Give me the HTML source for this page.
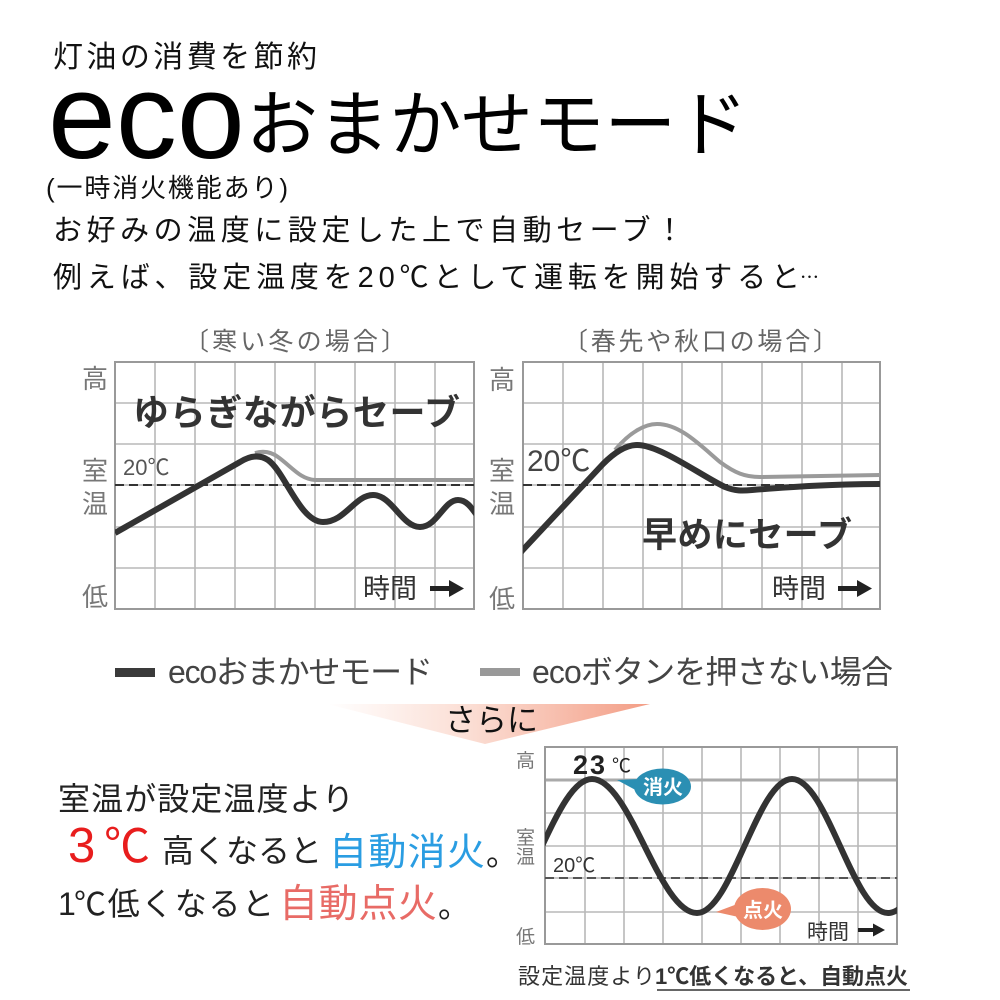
<!DOCTYPE html>
<html><head><meta charset="utf-8">
<style>html,body{margin:0;padding:0;background:#fff;}svg{display:block;}</style>
</head><body>
<svg width="1000" height="1000" viewBox="0 0 1000 1000" xmlns="http://www.w3.org/2000/svg" font-family="'Liberation Sans','Noto Sans CJK JP',sans-serif">
<defs>
  <linearGradient id="tri" x1="327" y1="0" x2="650" y2="0" gradientUnits="userSpaceOnUse">
    <stop offset="0" stop-color="#ffffff"/>
    <stop offset="0.45" stop-color="#fbddd3"/>
    <stop offset="1" stop-color="#f39d85"/>
  </linearGradient>
  <clipPath id="cl"><rect x="115" y="362" width="359" height="247"/></clipPath>
  <clipPath id="cr"><rect x="523" y="362" width="357" height="247"/></clipPath>
  <clipPath id="cb"><rect x="545" y="747" width="352" height="197"/></clipPath>
</defs>
<rect width="1000" height="1000" fill="#fff"/>

<!-- Header -->
<text x="53" y="67" font-size="30" fill="#111" textLength="264" lengthAdjust="spacing">灯油の消費を節約</text>
<text x="48" y="158" font-size="122" fill="#000">eco</text>
<text x="246" y="150" font-size="72" fill="#000" textLength="502" lengthAdjust="spacing">おまかせモード</text>
<text x="46" y="197" font-size="26" fill="#111" textLength="242" lengthAdjust="spacing">(一時消火機能あり)</text>
<text x="53" y="240" font-size="29" fill="#111" textLength="631" lengthAdjust="spacing">お好みの温度に設定した上で自動セーブ！</text>
<text x="53" y="287" font-size="29" fill="#111" textLength="747" lengthAdjust="spacing">例えば、設定温度を20℃として運転を開始すると</text>
<text x="800" y="284" font-size="19" fill="#111" font-family="'Noto Sans CJK JP',sans-serif">…</text>

<!-- Left chart -->
<text x="184" y="350" font-size="25" fill="#666" textLength="222" lengthAdjust="spacing">〔寒い冬の場合〕</text>
<g stroke="#b8b8b8" stroke-width="1.6" fill="none">
  <path d="M155,362V609M195,362V609M235,362V609M275,362V609M315,362V609M355,362V609M395,362V609M435,362V609M115,403H474M115,444H474M115,485H474M115,527H474M115,568H474"/>
</g>
<rect x="115" y="362" width="359" height="247" fill="none" stroke="#999" stroke-width="2"/>
<line x1="115" y1="485" x2="474" y2="485" stroke="#333" stroke-width="2" stroke-dasharray="9 5"/>
<text x="133" y="425" font-size="36" font-weight="bold" fill="#333" textLength="327" lengthAdjust="spacing">ゆらぎながらセーブ</text>
<text x="123" y="475" font-size="22" fill="#555">20℃</text>
<g clip-path="url(#cl)">
  <path d="M255,453 C262,451 270,451 278,457 C292,467 300,479 315,480 L474,480" fill="none" stroke="#9a9a9a" stroke-width="4"/>
  <path d="M115,533 L240,462 Q256,452 268,460 C285,472 300,522 323,522 C345,522 355,495 373,495 C392,495 402,527 420,527 C437,527 444,500 458,500 C466,500 471,507 476,514" fill="none" stroke="#333" stroke-width="6" stroke-linejoin="round"/>
</g>
<g font-size="26" fill="#777">
  <text x="82" y="388">高</text>
  <text x="82" y="480">室</text>
  <text x="82" y="513">温</text>
  <text x="82" y="606">低</text>
</g>
<text x="363" y="598" font-size="27" fill="#333">時間</text>
<rect x="430" y="586" width="22" height="5" fill="#222"/>
<path d="M449,580 L464,588.5 L449,597 Z" fill="#222"/>

<!-- Right chart -->
<text x="563" y="350" font-size="25" fill="#666" textLength="275" lengthAdjust="spacing">〔春先や秋口の場合〕</text>
<g stroke="#b8b8b8" stroke-width="1.6" fill="none">
  <path d="M563,362V609M603,362V609M643,362V609M682,362V609M722,362V609M762,362V609M802,362V609M842,362V609M523,403H880M523,444H880M523,485H880M523,527H880M523,568H880"/>
</g>
<rect x="523" y="362" width="357" height="247" fill="none" stroke="#999" stroke-width="2"/>
<line x1="523" y1="485" x2="880" y2="485" stroke="#333" stroke-width="2" stroke-dasharray="9 5"/>
<text x="527" y="471" font-size="30" fill="#444">20℃</text>
<g clip-path="url(#cr)">
  <path d="M615,450 C630,432 645,424 657,424 C680,424 700,445 720,462 C735,473 745,477 760,477 L880,475" fill="none" stroke="#9a9a9a" stroke-width="4"/>
  <path d="M520,553 L603,464 C615,452 627,445 637,445 C660,445 700,475 725,487 C735,491 742,491 752,490 C790,487 830,484 882,484" fill="none" stroke="#333" stroke-width="6" stroke-linejoin="round"/>
</g>
<text x="642" y="547" font-size="35" font-weight="bold" fill="#333" textLength="210" lengthAdjust="spacing">早めにセーブ</text>
<g font-size="26" fill="#777">
  <text x="489" y="389">高</text>
  <text x="489" y="480">室</text>
  <text x="489" y="513">温</text>
  <text x="489" y="608">低</text>
</g>
<text x="772" y="598" font-size="27" fill="#333">時間</text>
<rect x="838" y="586" width="22" height="5" fill="#222"/>
<path d="M857,580 L872,588.5 L857,597 Z" fill="#222"/>

<!-- Legend -->
<rect x="115" y="668" width="40" height="9" fill="#3a3a3a"/>
<text x="168" y="683" font-size="32" fill="#444" textLength="265" lengthAdjust="spacing">ecoおまかせモード</text>
<rect x="480" y="668" width="40" height="8" fill="#999"/>
<text x="532" y="683" font-size="32" fill="#444" textLength="361" lengthAdjust="spacing">ecoボタンを押さない場合</text>

<!-- さらに triangle -->
<polygon points="327,704 650,704 485,744" fill="url(#tri)"/>
<text x="445" y="731" font-size="31" fill="#111" textLength="93" lengthAdjust="spacing">さらに</text>

<!-- Bottom left text -->
<text x="58" y="810" font-size="32" fill="#222" textLength="296" lengthAdjust="spacing">室温が設定温度より</text>
<text x="68" y="862" font-size="49" fill="#e81d1d">3</text>
<text x="104" y="862" font-size="46" fill="#e81d1d">℃</text>
<text x="162" y="862" font-size="32" fill="#222" textLength="160" lengthAdjust="spacing">高くなると</text>
<text x="329" y="865" font-size="38" fill="#2a9de2" textLength="156" lengthAdjust="spacing">自動消火</text>
<text x="486" y="865" font-size="32" fill="#222">。</text>
<text x="58" y="915" font-size="32" fill="#222">1</text>
<text x="74" y="915" font-size="32" fill="#222" textLength="200" lengthAdjust="spacing">℃低くなると</text>
<text x="279" y="917" font-size="39" fill="#e86b66" textLength="158" lengthAdjust="spacing">自動点火</text>
<text x="438" y="917" font-size="32" fill="#222">。</text>

<!-- Bottom chart -->
<g stroke="#b8b8b8" stroke-width="1.6" fill="none">
  <path d="M585,747V944M624,747V944M663,747V944M702,747V944M741,747V944M780,747V944M819,747V944M858,747V944M545,813H897M545,846H897M545,878H897M545,912H897"/>
</g>
<line x1="545" y1="780" x2="897" y2="780" stroke="#aaa" stroke-width="3"/>
<rect x="545" y="747" width="352" height="197" fill="none" stroke="#999" stroke-width="2"/>
<line x1="545" y1="878" x2="897" y2="878" stroke="#555" stroke-width="2" stroke-dasharray="9 5"/>
<g clip-path="url(#cb)">
  <path d="M492,913 C528.3,913 555.7,779 592,779 C630.1,779 658.9,913 697,913 C731.5,913 757.5,779 792,779 C826.9,779 853.1,913 888,913 C924.3,913 951.7,779 988,779" fill="none" stroke="#333" stroke-width="6"/>
</g>
<g font-size="19" fill="#777">
  <text x="516" y="767">高</text>
  <text x="516" y="844">室</text>
  <text x="516" y="863">温</text>
  <text x="516" y="943">低</text>
</g>
<text x="573" y="774" font-size="27" font-weight="bold" fill="#222" letter-spacing="2">23</text>
<text x="612" y="772" font-size="19" fill="#222">℃</text>
<text x="553" y="872" font-size="20" fill="#333">20℃</text>
<!-- 消火 bubble -->
<path d="M640,779 L617,780 L643,794 Z" fill="#2b8fb3"/>
<ellipse cx="662.5" cy="786.5" rx="28.5" ry="18" fill="#2b8fb3"/>
<text x="663" y="794" font-size="20" font-weight="bold" fill="#fff" text-anchor="middle">消火</text>
<!-- 点火 bubble -->
<path d="M740,903 L716,912 L743,918 Z" fill="#ec8a6c"/>
<ellipse cx="762.5" cy="909" rx="28.5" ry="21" fill="#ec8a6c"/>
<text x="763" y="917" font-size="20" font-weight="bold" fill="#fff" text-anchor="middle">点火</text>
<text x="807" y="939" font-size="21" fill="#333">時間</text>
<rect x="858" y="928" width="17" height="4" fill="#222"/>
<path d="M873,923.5 L885,930 L873,936.5 Z" fill="#222"/>

<!-- Caption -->
<text x="518" y="984" font-size="22" fill="#333" textLength="137" lengthAdjust="spacing">設定温度より</text>
<text x="655" y="984" font-size="22" font-weight="bold" fill="#333" textLength="253" lengthAdjust="spacing">1℃低くなると、自動点火</text>
<line x1="657" y1="990" x2="910" y2="990" stroke="#333" stroke-width="1.5"/>
</svg>
</body></html>
